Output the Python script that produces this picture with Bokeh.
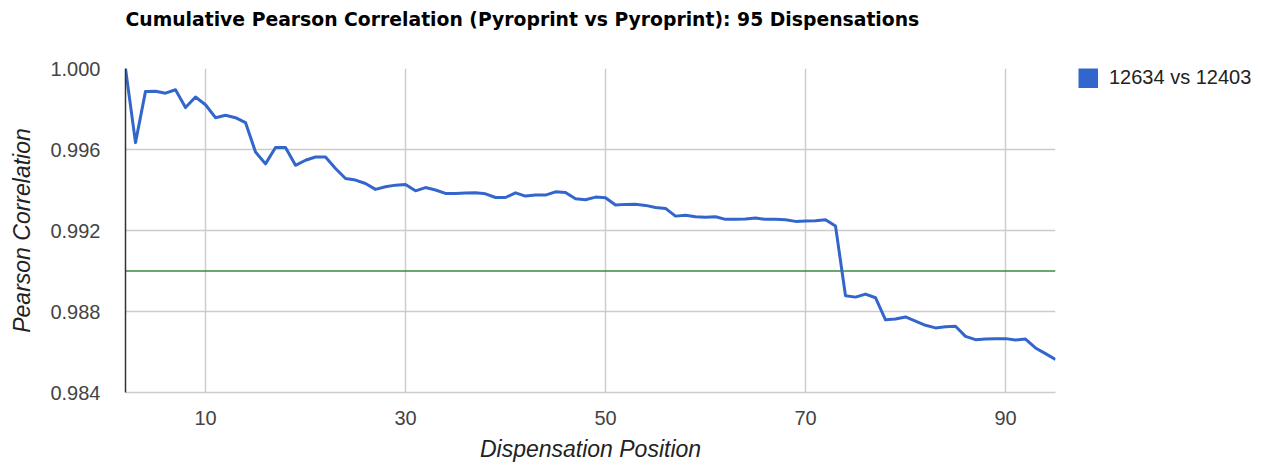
from bokeh.plotting import figure
from bokeh.layouts import row
from bokeh.models import (ColumnDataSource, FixedTicker, NumeralTickFormatter, Legend,
                          LegendItem, Range1d, Title)
from bokeh.embed import file_html
from bokeh.resources import INLINE

# ---- data ----
positions = list(range(2, 96))
correlation = [
    1.00000, 0.99634, 0.99887, 0.99888, 0.99878, 0.99895, 0.99807, 0.99859, 0.99821,
    0.99757, 0.99769, 0.99757, 0.99733, 0.99588, 0.99529, 0.99610, 0.99610, 0.99522,
    0.99547, 0.99563, 0.99563, 0.99506, 0.99457, 0.99449, 0.99432, 0.99403, 0.99416,
    0.99424, 0.99427, 0.99396, 0.99412, 0.99400, 0.99383, 0.99383, 0.99385, 0.99386,
    0.99381, 0.99363, 0.99363, 0.99386, 0.99370, 0.99375, 0.99375, 0.99391, 0.99388,
    0.99357, 0.99352, 0.99365, 0.99362, 0.99326, 0.99329, 0.99330, 0.99324, 0.99314,
    0.99309, 0.99271, 0.99275, 0.99268, 0.99266, 0.99268, 0.99255, 0.99255, 0.99257,
    0.99262, 0.99255, 0.99255, 0.99253, 0.99245, 0.99247, 0.99248, 0.99253, 0.99222,
    0.98878, 0.98871, 0.98886, 0.98868, 0.98759, 0.98763, 0.98773, 0.98753, 0.98732,
    0.98719, 0.98725, 0.98727, 0.98677, 0.98661, 0.98664, 0.98666, 0.98666, 0.98659,
    0.98664, 0.98620, 0.98592, 0.98563,
]
threshold = [0.990] * len(positions)
series_name = "12634 vs 12403"
x_ticks = [10, 30, 50, 70, 90]
y_ticks = [0.984, 0.988, 0.992, 0.996, 1.000]
title_text = "Cumulative Pearson Correlation (Pyroprint vs Pyroprint): 95 Dispensations"
x_title = "Dispensation Position"
y_title = "Pearson Correlation"

FONT = "Liberation Sans"
BLUE = "#3366cc"

src = ColumnDataSource(dict(x=positions, y=correlation, t=threshold))

H = 464
W_MAIN = 1072
W_LEG = 1280 - W_MAIN
TOP, BOTTOM = 68, H - 393

p = figure(width=W_MAIN, height=H, output_backend="svg", toolbar_location=None,
           x_range=Range1d(2, 95), y_range=Range1d(0.984, 1.000),
           min_border_left=125, min_border_right=W_MAIN - 1055, min_border_top=TOP,
           min_border_bottom=BOTTOM, outline_line_color=None, title=None)

# above panel: spacer (innermost) then the title (outer)
spacer_top = Title(text=" ", text_font_size="18.8px", standoff=7)
p.add_layout(spacer_top, "above")
t = Title(text=title_text, align="left", text_font="DejaVu Sans", text_font_size="18.8px",
          text_font_style="bold", text_color="#000000", standoff=14, vertical_align="top")
p.add_layout(t, "above")

# grid
p.xgrid.ticker = FixedTicker(ticks=x_ticks)
p.ygrid.ticker = FixedTicker(ticks=y_ticks)
p.xgrid.grid_line_color = "#cccccc"
p.ygrid.grid_line_color = "#cccccc"
p.xgrid.grid_line_width = 1.5
p.ygrid.grid_line_width = 1.5

# axes
for ax in (p.xaxis[0], p.yaxis[0]):
    ax.major_tick_line_color = None
    ax.minor_tick_line_color = None
    ax.major_label_text_font = FONT
    ax.major_label_text_font_size = "20px"
    ax.major_label_text_color = "#444444"
    ax.axis_label_text_font = FONT
    ax.axis_label_text_font_size = "23px"
    ax.axis_label_text_font_style = "italic"
    ax.axis_label_text_color = "#222222"

p.xaxis.ticker = FixedTicker(ticks=x_ticks)
p.yaxis.ticker = FixedTicker(ticks=y_ticks)
p.yaxis.formatter = NumeralTickFormatter(format="0.000")
p.xaxis.axis_label = x_title
p.yaxis.axis_label = y_title
p.xaxis.axis_line_color = "#cccccc"
p.xaxis.axis_line_width = 1.5
p.yaxis.axis_line_color = "#333333"
p.yaxis.axis_line_width = 1.5
p.xaxis.major_label_standoff = 12
p.yaxis.major_label_standoff = 19
p.xaxis.axis_label_standoff = 8
p.yaxis.axis_label_standoff = 12

# series
p.line("x", "t", source=src, line_color="#3d8b3d", line_width=1.6)
p.line("x", "y", source=src, line_color=BLUE, line_width=3, line_join="round")

# legend area to the right of the plot (same frame borders so the rows align)
p_leg = figure(width=W_LEG, height=H, output_backend="svg", toolbar_location=None,
               x_axis_type=None, y_axis_type=None, x_range=Range1d(0, 1),
               y_range=Range1d(0, 1), min_border_left=0, min_border_right=0,
               min_border_top=TOP, min_border_bottom=BOTTOM,
               outline_line_color=None, title=None)
p_leg.grid.visible = False
# legend swatch tied to the series data (lies outside this panel's view range)
swatch = p_leg.line("x", "y", source=src, line_color=BLUE, line_width=20, line_cap="butt")
legend = Legend(items=[LegendItem(label=series_name, renderers=[swatch])],
                location=(6, 393 - TOP - 22), orientation="vertical",
                glyph_width=20, glyph_height=20, label_height=20,
                label_text_font=FONT, label_text_font_size="20px",
                label_text_color="#222222", border_line_color=None,
                background_fill_alpha=0, padding=0, margin=0, label_standoff=11)
p_leg.add_layout(legend, "center")

layout = row(p, p_leg, spacing=0)
open("out.html", "w").write(file_html(layout, INLINE))
